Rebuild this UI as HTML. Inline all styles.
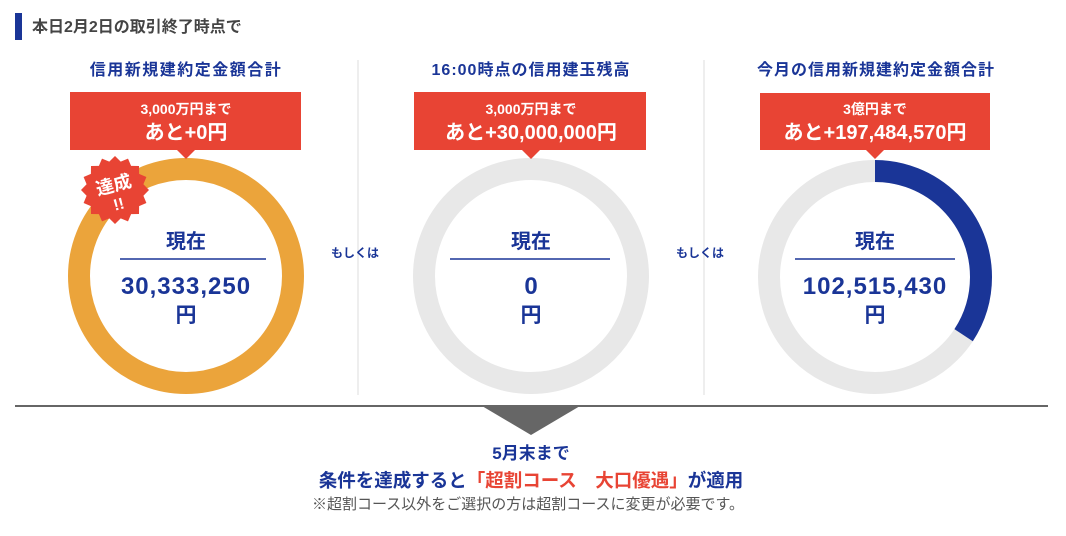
<!DOCTYPE html>
<html><head><meta charset="utf-8"><style>
body{margin:0;background:#fff;}
svg text{font-family:"Liberation Sans","Noto Sans CJK JP",sans-serif;font-weight:bold;}
</style></head><body>
<svg width="1066" height="531" viewBox="0 0 1066 531" xmlns="http://www.w3.org/2000/svg">
<rect x="15" y="13" width="7" height="27" fill="#1a3597"/>
<text x="32" y="32" font-size="16" fill="#444">本日2月2日の取引終了時点で</text>

<line x1="358" y1="60" x2="358" y2="395" stroke="#eee" stroke-width="2"/>
<line x1="704" y1="60" x2="704" y2="395" stroke="#eee" stroke-width="2"/>

<g text-anchor="middle">
<text x="186" y="75" font-size="16" letter-spacing="1.5" fill="#1a3597">信用新規建約定金額合計</text>
<text x="531" y="75" font-size="16" letter-spacing="1" fill="#1a3597">16:00時点の信用建玉残高</text>
<text x="876" y="75" font-size="16" letter-spacing="1" fill="#1a3597">今月の信用新規建約定金額合計</text>
</g>

<circle cx="186" cy="276" r="107" fill="none" stroke="#eba43b" stroke-width="22"/>
<circle cx="531" cy="276" r="107" fill="none" stroke="#e8e8e8" stroke-width="22"/>
<circle cx="875" cy="277" r="106" fill="none" stroke="#e8e8e8" stroke-width="22"/>
<circle cx="875" cy="277" r="106" fill="none" stroke="#1a3597" stroke-width="22" stroke-dasharray="228 1000" transform="rotate(-90 875 277)"/>

<g fill="#e84434">
<rect x="70" y="92" width="231" height="58"/><polygon points="177,150 195,150 186,159"/>
<rect x="414" y="92" width="232" height="58"/><polygon points="522,150 540,150 531,159"/>
<rect x="760" y="93" width="230" height="57"/><polygon points="866,150 884,150 875,159"/>
</g>
<g text-anchor="middle">
<text x="186" y="114" font-size="14" fill="#fff">3,000万円まで</text>
<text x="186" y="139" font-size="20" fill="#fff">あと+0円</text>
<text x="531" y="114" font-size="14" fill="#fff">3,000万円まで</text>
<text x="531" y="139" font-size="20" fill="#fff">あと+30,000,000円</text>
<text x="875" y="114" font-size="14" fill="#fff">3億円まで</text>
<text x="875" y="139" font-size="20" fill="#fff">あと+197,484,570円</text>
</g>

<polygon fill="#e84434" points="149,190 143.4,195.7 146.4,203 139.1,206.1 139,214 131.1,214.1 128,221.4 120.7,218.4 115,224 109.3,218.4 102,221.4 98.9,214.1 91,214 90.9,206.1 83.6,203 86.6,195.7 81,190 86.6,184.3 83.6,177 90.9,173.9 91,166 98.9,165.9 102,158.6 109.3,161.6 115,156 120.7,161.6 128,158.6 131.1,165.9 139,166 139.1,173.9 146.4,177 143.4,184.3"/>
<g transform="rotate(-15 115 190)" text-anchor="middle">
<text x="115" y="191" font-size="18" fill="#fff">達成</text>
<text x="115" y="210" font-size="16" fill="#fff">!!</text>
</g>

<g text-anchor="middle">
<text x="186" y="248" font-size="20" fill="#1a3597">現在</text>
<line x1="120" y1="259" x2="266" y2="259" stroke="#1a3597" stroke-width="1.5"/>
<text x="186" y="294" font-size="24" letter-spacing="1" fill="#1a3597">30,333,250</text>
<text x="186" y="322" font-size="21" fill="#1a3597">円</text>

<text x="531" y="248" font-size="20" fill="#1a3597">現在</text>
<line x1="450" y1="259" x2="610" y2="259" stroke="#1a3597" stroke-width="1.5"/>
<text x="531" y="294" font-size="24" fill="#1a3597">0</text>
<text x="531" y="322" font-size="21" fill="#1a3597">円</text>

<text x="875" y="248" font-size="20" fill="#1a3597">現在</text>
<line x1="795" y1="259" x2="955" y2="259" stroke="#1a3597" stroke-width="1.5"/>
<text x="875" y="294" font-size="24" letter-spacing="1" fill="#1a3597">102,515,430</text>
<text x="875" y="322" font-size="21" fill="#1a3597">円</text>

<text x="355" y="257" font-size="12" fill="#1a3597">もしくは</text>
<text x="700" y="257" font-size="12" fill="#1a3597">もしくは</text>
</g>

<line x1="15" y1="406" x2="1048" y2="406" stroke="#666" stroke-width="2"/>
<polygon points="482,406 580,406 531,435" fill="#666"/>

<g text-anchor="middle">
<text x="531" y="459" font-size="17" fill="#1a3597">5月末まで</text>
<text x="531" y="487" font-size="18.5" fill="#1a3597">条件を達成すると<tspan fill="#e84434">「超割コース　大口優遇」</tspan>が適用</text>
<text x="528" y="509" font-size="15" fill="#555" style="font-weight:normal">※超割コース以外をご選択の方は超割コースに変更が必要です。</text>
</g>
</svg>
</body></html>
